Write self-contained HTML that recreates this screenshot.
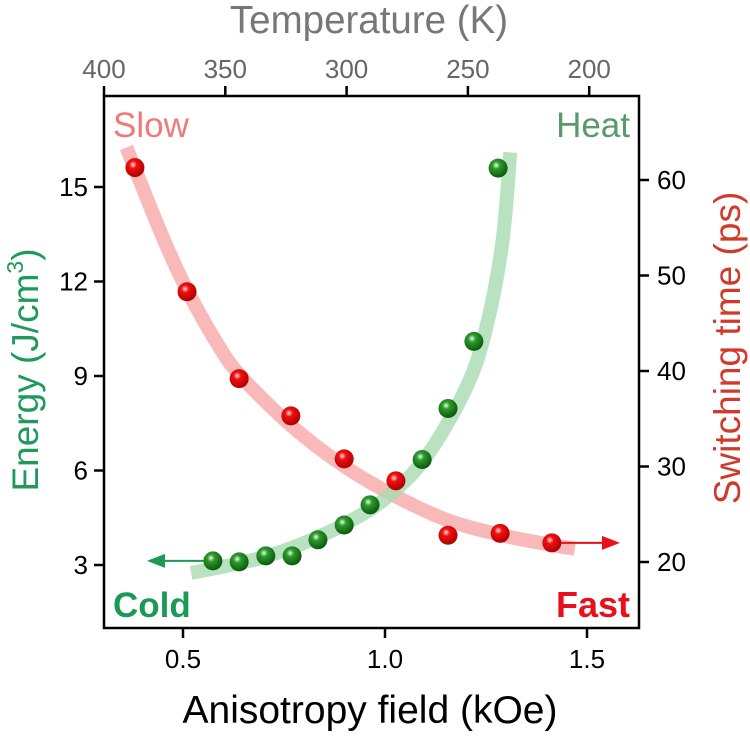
<!DOCTYPE html>
<html><head><meta charset="utf-8"><style>
body{margin:0;background:#fff;width:750px;height:736px;overflow:hidden}
svg{display:block;font-family:"Liberation Sans",Arial,sans-serif}
</style></head><body>
<svg id="chart" width="750" height="736" viewBox="0 0 750 736">
<defs>
<radialGradient id="gg" cx="0.4" cy="0.35" r="0.65"><stop offset="0" stop-color="#e8ffe8"/><stop offset="0.3" stop-color="#2e9a2e"/><stop offset="1" stop-color="#0a5a0a"/></radialGradient>
<radialGradient id="rg" cx="0.4" cy="0.35" r="0.65"><stop offset="0" stop-color="#ffe0e0"/><stop offset="0.3" stop-color="#f01010"/><stop offset="1" stop-color="#b00000"/></radialGradient>
</defs>
<g id="curves"></g>
<g id="marks"></g>
<rect x="104" y="96" width="535" height="532" fill="none" stroke="#000" stroke-width="2.5"/>
<g id="axes"></g>
<text x="369" y="33" text-anchor="middle" font-size="38.5" fill="#777">Temperature (K)</text>
<text x="370" y="723" text-anchor="middle" font-size="39" fill="#000">Anisotropy field (kOe)</text>
<text transform="translate(38,370) rotate(-90)" text-anchor="middle" font-size="37" fill="#1f9a5a">Energy (J/cm<tspan font-size="23" dy="-15">3</tspan><tspan dy="15">)</tspan></text>
<text transform="translate(740,348) rotate(-90)" text-anchor="middle" font-size="37" fill="#d03a2a">Switching time (ps)</text>
<text x="113" y="137" font-size="35" fill="#f07a7a">Slow</text>
<text x="630" y="137" text-anchor="end" font-size="35" fill="#5a9a6a">Heat</text>
<text x="113" y="617" font-size="35" font-weight="bold" fill="#1a9a55">Cold</text>
<text x="630" y="617" text-anchor="end" font-size="36" font-weight="bold" fill="#e8101a">Fast</text>
</svg>
<script>
const xTicks=[0.5,1.0,1.5];
const xTickLabels=["0.5","1.0","1.5"];
const tTicks=[400,350,300,250,200];
const leftTicks=[3,6,9,12,15];
const rightTicks=[20,30,40,50,60];
const energyX=[0.574,0.639,0.705,0.770,0.834,0.899,0.963,1.092,1.156,1.220,1.280];
const energyY=[3.13,3.10,3.29,3.29,3.80,4.27,4.91,6.35,7.97,10.1,15.6];
const timeX=[0.381,0.51,0.639,0.767,0.899,1.027,1.156,1.285,1.413];
const timeY=[61.3,48.3,39.2,35.3,30.8,28.5,22.8,23.0,22.0];
const energyFitX=[0.52,0.6,0.7,0.8,0.9,1.0,1.1,1.2,1.25,1.29,1.31];
const energyFitY=[2.75,2.95,3.25,3.7,4.3,5.1,6.4,8.6,10.5,13.2,16.1];
const timeFitX=[0.36,0.38,0.45,0.51,0.58,0.64,0.77,0.9,1.03,1.16,1.29,1.41,1.47];
const timeFitY=[63.4,61.3,54,48.5,43.2,39.6,34.2,30.0,26.8,24.3,22.8,21.8,21.4];

const sx=v=>183+(v-0.5)*404;
const st=v=>104+(400-v)*121.3/50;
const sl=v=>565-(v-3)*31.5;
const sr=v=>562-(v-20)*9.55;
const NS="http://www.w3.org/2000/svg";
function mk(tag,attrs,parent){const e=document.createElementNS(NS,tag);for(const k in attrs)e.setAttribute(k,attrs[k]);document.getElementById(parent).appendChild(e);return e;}

xTicks.forEach((v,i)=>{
 const t=mk('line',{x1:sx(v),x2:sx(v),y1:628,y2:638,stroke:'#000','stroke-width':2.5},'axes');
 
 
 const l=mk('text',{x:sx(v),y:668,'text-anchor':'middle','font-size':26,fill:'#000'},'axes');l.textContent=xTickLabels[i];
 
 
});
tTicks.forEach(v=>{
 const t=mk('line',{x1:st(v),x2:st(v),y1:96,y2:86,stroke:'#000','stroke-width':2.5},'axes');
 
 
 const l=mk('text',{x:st(v),y:78,'text-anchor':'middle','font-size':26,fill:'#666'},'axes');l.textContent=v;
 
 
});
leftTicks.forEach(v=>{
 const t=mk('line',{x1:94,x2:104,y1:sl(v),y2:sl(v),stroke:'#000','stroke-width':2.5},'axes');
 
 
 const l=mk('text',{x:88,y:sl(v)+9,'text-anchor':'end','font-size':26,fill:'#000'},'axes');l.textContent=v;
 
 
});
rightTicks.forEach(v=>{
 const t=mk('line',{x1:639,x2:649,y1:sr(v),y2:sr(v),stroke:'#000','stroke-width':2.5},'axes');
 
 
 const l=mk('text',{x:657,y:sr(v)+9,'font-size':26,fill:'#000'},'axes');l.textContent=v;
 
 
});
function smooth(pts){let d=`M${pts[0][0]},${pts[0][1]}`;for(let i=0;i<pts.length-1;i++){const p0=pts[Math.max(0,i-1)],p1=pts[i],p2=pts[i+1],p3=pts[Math.min(pts.length-1,i+2)];d+=` C${p1[0]+(p2[0]-p0[0])/6},${p1[1]+(p2[1]-p0[1])/6} ${p2[0]-(p3[0]-p1[0])/6},${p2[1]-(p3[1]-p1[1])/6} ${p2[0]},${p2[1]}`;}return d;}
const pc=mk('path',{d:smooth(timeFitX.map((x,i)=>[sx(x),sr(timeFitY[i])])),fill:'none',stroke:'#f8a8a8','stroke-width':14,opacity:0.8},'curves');


const gc=mk('path',{d:smooth(energyFitX.map((x,i)=>[sx(x),sl(energyFitY[i])])),fill:'none',stroke:'#a8dcb0','stroke-width':14,opacity:0.8},'curves');


const ga=mk('line',{x1:sx(energyX[0]),y1:sl(energyY[0]),x2:162,y2:sl(energyY[0]),stroke:'#1a9a55','stroke-width':2},'marks');


const gh=mk('polygon',{points:`147,${sl(energyY[0])} 165,${sl(energyY[0])-7} 165,${sl(energyY[0])+7}`,fill:'#1a9a55'},'marks');


const ry=sr(timeY[timeY.length-1]);
const ra=mk('line',{x1:sx(timeX[timeX.length-1]),y1:ry,x2:605,y2:ry,stroke:'#e8101a','stroke-width':2},'marks');


const rh=mk('polygon',{points:`620,${ry} 602,${ry-7} 602,${ry+7}`,fill:'#e8101a'},'marks');


energyX.forEach((x,i)=>{
 const c=mk('circle',{cx:sx(x),cy:sl(energyY[i]),r:9.5,fill:'url(#gg)'},'marks');
 
 
});
timeX.forEach((x,i)=>{
 const c=mk('circle',{cx:sx(x),cy:sr(timeY[i]),r:9.5,fill:'url(#rg)'},'marks');
 
 
});
</script>
</body></html>
